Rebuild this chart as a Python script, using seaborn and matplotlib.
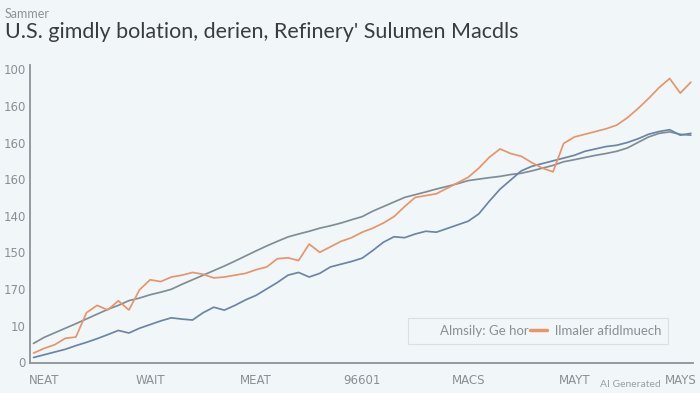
import numpy as np
import pandas as pd
import matplotlib
matplotlib.use("Agg")
import matplotlib.pyplot as plt
import seaborn as sns
from matplotlib.lines import Line2D

# ---------------- data ----------------
weeks = list(range(-1, 62))

gray_vals = [10.2, 13.5, 16.0, 18.5, 21.0, 23.6, 26.2, 28.8, 31.0, 33.6,
             35.0, 36.8, 38.2, 39.8, 42.5, 45.0, 47.5, 50.0, 52.5, 55.2,
             58.0, 60.8, 63.5, 66.0, 68.4, 70.0, 71.5, 73.2, 74.5, 76.0,
             77.8, 79.5, 82.5, 85.0, 87.5, 90.0, 91.5, 93.0, 94.6, 96.0,
             97.5, 99.2, 100.0, 100.8, 101.5, 102.5, 103.2, 104.5, 106.0, 107.5,
             109.5, 110.6, 111.8, 113.0, 114.0, 115.2, 117.0, 120.0, 123.0, 125.0,
             125.8, 124.5, 124.0]

blue_vals = [2.5, 4.0, 5.5, 7.0, 9.0, 10.8, 12.8, 15.0, 17.3, 15.9,
             18.5, 20.5, 22.5, 24.2, 23.5, 23.0, 27.0, 30.0, 28.4, 31.0,
             34.0, 36.5, 40.0, 43.5, 47.5, 49.0, 46.5, 48.5, 52.0, 53.5,
             55.0, 56.8, 61.0, 65.5, 68.5, 68.0, 70.0, 71.5, 71.0, 73.0,
             75.0, 77.0, 81.0, 88.0, 94.5, 99.5, 104.5, 107.0, 108.5, 110.0,
             111.5, 113.0, 115.2, 116.5, 117.8, 118.5, 120.0, 122.0, 124.5, 126.0,
             127.0, 124.0, 125.0]

orange_vals = [4.9, 7.5, 9.5, 13.0, 13.7, 27.0, 31.0, 28.5, 33.5, 28.5,
               39.5, 45.0, 44.0, 46.5, 47.5, 49.0, 48.0, 46.0, 46.5, 47.5,
               48.5, 50.5, 52.0, 56.5, 57.0, 55.5, 64.5, 60.0, 63.0, 66.0,
               68.0, 71.0, 73.2, 76.0, 79.5, 85.0, 90.0, 91.0, 92.0, 95.0,
               98.0, 101.0, 106.0, 112.0, 116.5, 114.0, 112.5, 109.0, 106.0, 104.0,
               119.5, 123.0, 124.5, 126.0, 127.5, 129.5, 133.5, 138.5, 144.0, 150.0,
               155.0, 147.0, 153.0]

series_names = ["Gasoline", "Distillate", "Refinery"]
x_tick_pos = [0, 10, 20, 30, 40, 50, 60]
x_tick_labels = ["NEAT", "WAIT", "MEAT", "96601", "MACS", "MAYT", "MAYS"]
y_tick_pos = [0, 20, 40, 60, 80, 100, 120, 140, 160]
y_tick_labels = ["0", "10", "170", "150", "140", "160", "160", "160", "100"]

subtitle = "Sammer"
title = "U.S. gimdly bolation, derien, Refinery' Sulumen Macdls"
legend_labels = ["Almsily: Ge hor", "llmaler afidlmuech"]

# ---------------- styling ----------------
bg = "#f1f7f8"
colors = {"Gasoline": "#808d97", "Distillate": "#6b85a4", "Refinery": "#e8946c"}

sns.set_theme(style="white")
plt.rcParams["font.family"] = ["Lato", "DejaVu Sans"]

df = pd.concat([
    pd.DataFrame({"week": weeks, "value": gray_vals, "series": series_names[0]}),
    pd.DataFrame({"week": weeks, "value": blue_vals, "series": series_names[1]}),
    pd.DataFrame({"week": weeks, "value": orange_vals, "series": series_names[2]}),
])

fig = plt.figure(figsize=(7.0, 3.93), dpi=100, facecolor=bg)
ax = fig.add_axes([0.043, 0.0763, 0.947, 0.758])
ax.set_facecolor(bg)

sns.lineplot(data=df, x="week", y="value", hue="series", palette=colors,
             linewidth=1.25, ax=ax, legend=False, estimator=None)

ax.set_xlim(-1.32, 61.2)
ax.set_ylim(-0.5, 162.3)
ax.set_xticks(x_tick_pos)
ax.set_xticklabels(x_tick_labels, fontsize=8.5, color="#8a8f94",
                   family=["Liberation Sans Narrow", "DejaVu Sans"])
ax.set_yticks(y_tick_pos)
ax.set_yticklabels(y_tick_labels, fontsize=8.5, color="#8a8f94",
                   family=["Liberation Sans Narrow", "DejaVu Sans"])
ax.tick_params(axis="x", length=2.5, width=1, color="#8c9399", pad=7, direction="inout")
ax.tick_params(axis="y", length=2.5, width=1, color="#8c9399", pad=2, direction="inout")
ax.set_xlabel("")
ax.set_ylabel("")

for s in ["top", "right"]:
    ax.spines[s].set_visible(False)
for s in ["left", "bottom"]:
    ax.spines[s].set_color("#8c9399")
    ax.spines[s].set_linewidth(1.3)

# legend
handles = [Line2D([], [], color="none", linewidth=0),
           Line2D([], [], color=colors["Refinery"], linewidth=2.5)]
leg = ax.legend(handles, legend_labels, ncol=2, loc="lower right",
                bbox_to_anchor=(0.972, 0.043), frameon=True, fontsize=9.5,
                handlelength=1.3, handletextpad=0.6, columnspacing=0.1,
                borderpad=0.5, fancybox=False)
leg.get_frame().set_facecolor(bg)
leg.get_frame().set_edgecolor("#d5dadd")
leg.get_frame().set_linewidth(0.8)
for t in leg.get_texts():
    t.set_color("#8a8f94")

fig.text(0.007, 0.965, subtitle, fontsize=9, color="#8d9297", va="center", ha="left")
fig.text(0.007, 0.918, title, fontsize=15.5, color="#3a3d40", va="center", ha="left")
fig.text(0.944, 0.022, "AI Generated", fontsize=7.5, color="#9aa0a5", va="center", ha="right")

fig.savefig("out.png", dpi=100, facecolor=bg)
